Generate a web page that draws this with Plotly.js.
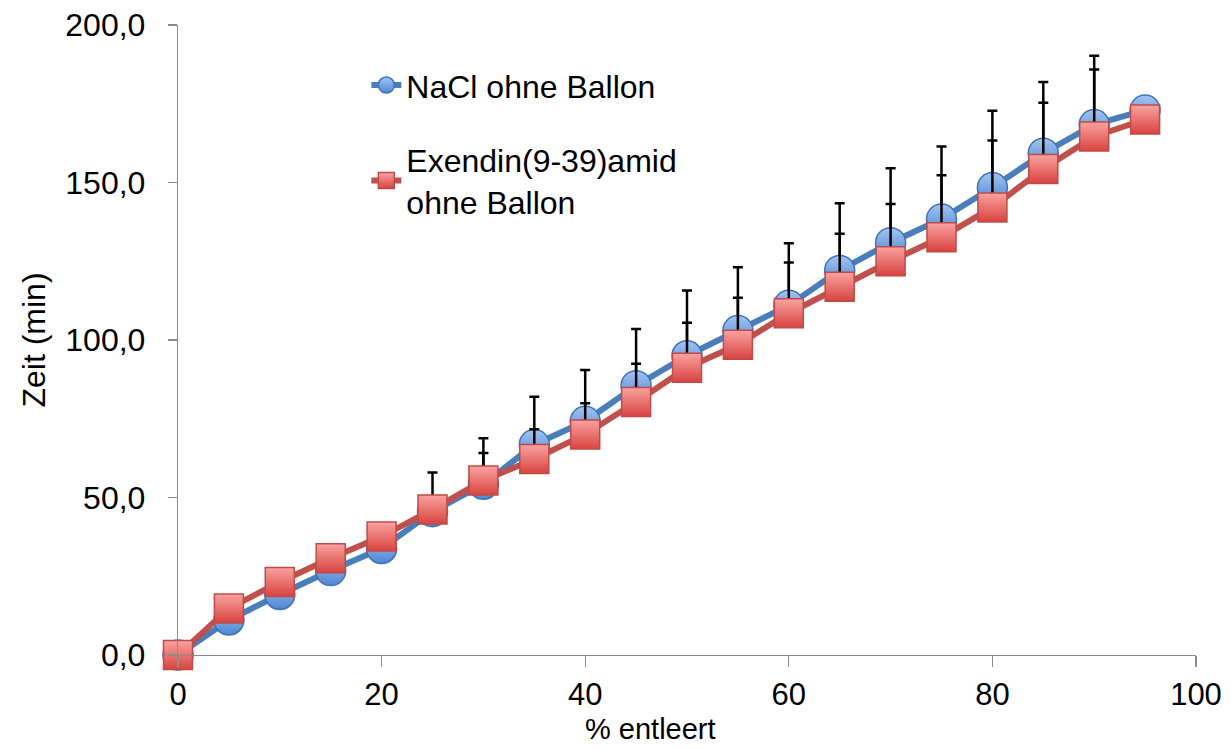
<!DOCTYPE html>
<html>
<head>
<meta charset="utf-8">
<script src="https://cdn.plot.ly/plotly-3.0.1.min.js"></script>
<style>html,body{margin:0;padding:0;background:#fff;}#chart{width:1231px;height:749px;}</style>
</head>
<body>
<div id="chart"></div>
<script>
// % emptied (x categories)
const entleert = [0, 5, 10, 15, 20, 25, 30, 35, 40, 45, 50, 55, 60, 65, 70, 75, 80, 85, 90, 95];
// Zeit (min) - NaCl ohne Ballon
const naclZeit = [0, 11.1, 19.2, 26.8, 33.8, 45.5, 54.2, 66.8, 74.2, 85.5, 95.0, 103.0, 111.0, 122.1, 130.9, 138.4, 148.4, 159.3, 168.4, 173.0];
const naclFehler = [0, 3, 4, 5, 6, 12.4, 14.6, 15.2, 16.3, 18.0, 20.7, 20.1, 19.7, 21.3, 23.6, 23.0, 24.4, 22.6, 21.8, 3];
// Zeit (min) - Exendin(9-39)amid ohne Ballon
const exZeit = [0, 14.8, 23.2, 30.7, 37.6, 46.2, 55.4, 62.2, 70.0, 80.3, 91.2, 98.5, 108.5, 116.9, 125.0, 132.6, 142.1, 154.3, 164.6, 170.0];
const exFehler = [0, 3, 3, 4, 4, 4, 8.7, 9.5, 9.9, 12.2, 14.3, 14.9, 16.1, 16.8, 18.2, 19.7, 21.2, 21.0, 21.3, 3];

const tickVals = [0, 20, 40, 60, 80, 100];
const tickText = ['0', '20', '40', '60', '80', '100'];
const yTickVals = [0, 50, 100, 150, 200];
const yTickText = ['0,0', '50,0', '100,0', '150,0', '200,0'];

const font = 'Liberation Sans, Arial, sans-serif';

const traces = [
  {
    x: entleert, y: naclZeit, name: 'NaCl ohne Ballon', type: 'scatter', mode: 'lines+markers',
    legendgroup: 'a',
    line: {color: '#4a7ebb', width: 6},
    marker: {symbol: 'circle', size: 30, color: '#a3c5f2', line: {color: '#3f72b5', width: 1.5},
             gradient: {type: 'vertical', color: '#4f86d2'}},
    error_y: {type: 'data', symmetric: false, array: naclFehler, arrayminus: naclFehler.map(() => 0),
              color: '#000', thickness: 2.5, width: 5},
    cliponaxis: false
  },
  {
    x: entleert, y: exZeit, name: 'Exendin(9-39)amid<br>ohne Ballon', type: 'scatter', mode: 'lines+markers',
    legendgroup: 'b',
    line: {color: '#c0504d', width: 6},
    marker: {symbol: 'square', size: 29, color: '#f9a3a1', line: {color: '#be4b48', width: 1.5},
             gradient: {type: 'vertical', color: '#d8433f'}},
    error_y: {type: 'data', symmetric: false, array: exFehler, arrayminus: exFehler.map(() => 0),
              color: '#000', thickness: 2.5, width: 5},
    cliponaxis: false
  }
];

const layout = {
  width: 1231, height: 749,
  margin: {l: 178, r: 35, t: 25, b: 94},
  paper_bgcolor: '#fff', plot_bgcolor: '#fff',
  font: {family: font, color: '#000', size: 32},
  showlegend: true,
  legend: {x: 0.185, y: 0.948, xanchor: 'left', yanchor: 'top', bgcolor: 'rgba(0,0,0,0)',
           font: {family: font, size: 32, color: '#000'}, traceorder: 'grouped', tracegroupgap: 30},
  xaxis: {
    range: [0, 100], tickmode: 'array', tickvals: tickVals, ticktext: tickText,
    showgrid: false, zeroline: false, showline: true, linecolor: '#8c8c8c', linewidth: 1.2,
    ticks: 'outside', ticklen: 11, tickcolor: '#8c8c8c', tickwidth: 1.2,
    tickfont: {family: font, size: 31, color: '#000'}, ticklabelstandoff: 1
  },
  yaxis: {
    range: [0, 200], tickmode: 'array', tickvals: yTickVals, ticktext: yTickText,
    showgrid: false, zeroline: false, showline: true, linecolor: '#8c8c8c', linewidth: 1.2,
    ticks: 'outside', ticklen: 9, tickcolor: '#8c8c8c', tickwidth: 1.2,
    tickfont: {family: font, size: 32, color: '#000'}, ticklabelstandoff: 16,
    title: {text: 'Zeit (min)', font: {family: font, size: 32, color: '#000'}, standoff: 10}
  },
  annotations: [
    {text: '% entleert', xref: 'paper', yref: 'paper', x: 0.4646, y: -0.146, xanchor: 'center', yanchor: 'bottom',
     showarrow: false, font: {family: font, size: 29, color: '#000'}}
  ]
};

Plotly.newPlot('chart', traces, layout, {displayModeBar: false, staticPlot: true});
</script>
</body>
</html>
